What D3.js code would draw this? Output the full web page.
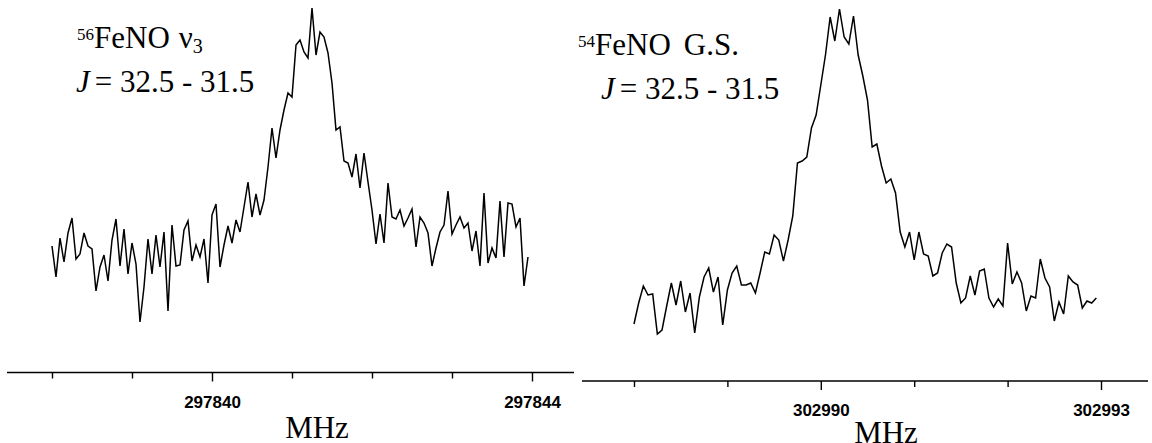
<!DOCTYPE html>
<html>

<head>
    <meta charset="utf-8">
    <title>FeNO J = 32.5 - 31.5</title>
    <script src="https://d3js.org/d3.v7.min.js"></script>
    <style>
        body { margin: 0; background: #fff; }
    </style>
</head>

<body>
    <svg width="1152" height="443"></svg>
    <script>
        // 56FeNO v3, sweep start (MHz) and step (MHz), intensity in arb. units
        const leftStart = 297838.0
        const leftStep = 0.05
        const leftIntensity = [
            84, 53, 92, 68, 97, 112, 71, 76, 97, 84, 81, 39, 63, 75, 49, 90, 111, 64, 101, 56,
            87, 66, 8, 43, 91, 56, 95, 63, 98, 19, 105, 64, 65, 100, 109, 69, 85, 73, 91, 47,
            115, 126, 63, 85, 104, 87, 110, 98, 123, 148, 113, 136, 115, 130, 163, 202, 172, 200, 220, 237,
            233, 285, 290, 278, 272, 322, 275, 298, 293, 277, 247, 200, 203, 169, 167, 153, 176, 142, 177, 148,
            120, 86, 116, 87, 147, 113, 111, 120, 104, 112, 121, 83, 113, 107, 97, 64, 82, 98, 105, 139,
            96, 105, 113, 102, 107, 79, 99, 64, 137, 67, 82, 72, 129, 73, 127, 126, 103, 112, 44, 73
        ]
        const leftTicks = [297838, 297839, 297840, 297841, 297842, 297843, 297844]
        const leftLabels = [297840, 297844]

        // 54FeNO ground state
        const rightStart = 302988.0
        const rightStep = 0.05
        const rightIntensity = [
            16, 37, 54, 45, 46, 6, 10, 34, 57, 35, 59, 28, 47, 7, 43, 63, 72, 48, 63, 15,
            50, 67, 74, 55, 55, 57, 47, 67, 88, 86, 105, 100, 79, 100, 124, 177, 179, 183, 212, 225,
            255, 285, 323, 299, 331, 303, 296, 324, 285, 264, 240, 193, 196, 174, 157, 161, 147, 108, 93, 108,
            80, 108, 86, 84, 64, 67, 87, 96, 93, 57, 37, 42, 64, 45, 69, 71, 42, 33, 41, 34,
            97, 56, 68, 57, 29, 44, 42, 81, 62, 53, 19, 38, 26, 64, 58, 55, 32, 39, 37, 42
        ]
        const rightTicks = [302988, 302989, 302990, 302991, 302992, 302993]
        const rightLabels = [302990, 302993]

        const svg = d3.select("svg")
        const serif = "'Liberation Serif', 'Times New Roman', serif"
        const sans = "'Liberation Sans', Arial, sans-serif"

        const panels = [
            {
                start: leftStart, step: leftStep, values: leftIntensity,
                ticks: leftTicks, labels: leftLabels,
                x: d3.scaleLinear().domain([297838, 297844]).range([52, 532]),
                y: d3.scaleLinear().domain([0, 330]).range([330, 0]),
                axisY: 372.5, axisFrom: 7, axisTo: 574, labelY: 408,
                unit: [317, 438],
                iso: "56", name: "FeNO", tag: "\u03bd", sub: "3",
                title: [77, 48], jPos: [76, 92]
            },
            {
                start: rightStart, step: rightStep, values: rightIntensity,
                ticks: rightTicks, labels: rightLabels,
                x: d3.scaleLinear().domain([302988, 302993]).range([634, 1101]),
                y: d3.scaleLinear().domain([0, 340]).range([340, 0]),
                axisY: 381, axisFrom: 582, axisTo: 1148, labelY: 416,
                unit: [886, 443],
                iso: "54", name: "FeNO", tag: "G.S.", sub: null,
                title: [578, 55], jPos: [601, 99]
            }
        ]

        panels.forEach(p => {
            const pts = p.values.map((v, i) => [p.start + i * p.step, v])

            const line = d3.line()
                .x(d => p.x(d[0]))
                .y(d => p.y(d[1]))

            svg.append("path")
                .datum(pts)
                .attr("d", line)
                .attr("fill", "none")
                .attr("stroke", "#000")
                .attr("stroke-width", 1.5)

            // axis base line runs wider than the tick range
            svg.append("line")
                .attr("x1", p.axisFrom).attr("x2", p.axisTo)
                .attr("y1", p.axisY).attr("y2", p.axisY)
                .attr("stroke", "#000").attr("stroke-width", 1.6)

            const minor = d3.axisBottom(p.x)
                .tickValues(p.ticks.filter(t => !p.labels.includes(t)))
                .tickSize(6).tickSizeOuter(0).tickFormat("")
            const major = d3.axisBottom(p.x)
                .tickValues(p.labels)
                .tickSize(9).tickSizeOuter(0)
                .tickFormat(d3.format("d"))

            const gMin = svg.append("g").attr("transform", `translate(0,${p.axisY})`).call(minor)
            const gMaj = svg.append("g").attr("transform", `translate(0,${p.axisY})`).call(major)
            svg.selectAll(".domain").remove()
            ;[gMin, gMaj].forEach(g => g.selectAll(".tick line").attr("stroke", "#000").attr("stroke-width", 1.4))
            gMaj.selectAll(".tick text")
                .attr("y", p.labelY - p.axisY)
                .attr("dy", 0)
                .attr("fill", "#000")
                .style("font-family", sans)
                .style("font-size", "17px")
                .style("font-weight", "bold")

            svg.append("text")
                .attr("x", p.unit[0]).attr("y", p.unit[1])
                .attr("text-anchor", "middle")
                .style("font-family", serif)
                .style("font-size", "31px")
                .text("MHz")

            // species label
            const t = svg.append("text")
                .attr("x", p.title[0]).attr("y", p.title[1])
                .style("font-family", serif)
                .style("font-size", "31px")
            t.append("tspan").attr("dy", -8).style("font-size", "17px").text(p.iso)
            t.append("tspan").attr("dy", 8).text(p.name)
            t.append("tspan").attr("dx", p.sub ? 9 : 13).text(p.tag)
            if (p.sub) t.append("tspan").attr("dy", 5).style("font-size", "20px").text(p.sub)

            const j = svg.append("text")
                .attr("x", p.jPos[0]).attr("y", p.jPos[1])
                .style("font-family", serif)
                .style("font-size", "31px")
            j.append("tspan").style("font-style", "italic").text("J")
            j.append("tspan").attr("dx", 5).text("= 32.5 - 31.5")
        })
    </script>
</body>

</html>
